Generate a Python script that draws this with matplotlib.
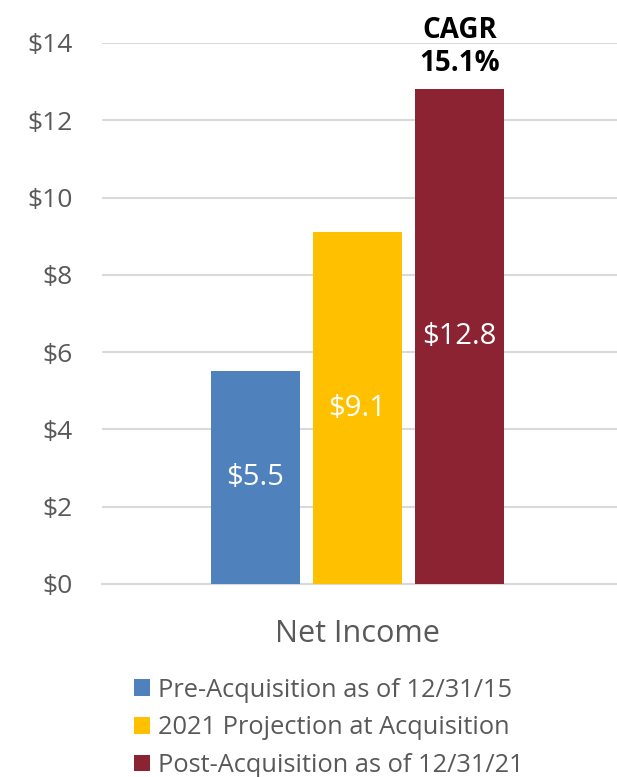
import matplotlib
matplotlib.use("Agg")
import matplotlib.pyplot as plt
from matplotlib.patches import Patch

series = ["Pre-Acquisition as of 12/31/15",
          "2021 Projection at Acquisition",
          "Post-Acquisition as of 12/31/21"]
values = [5.5, 9.1, 12.8]
colors = ["#4F81BD", "#FFC000", "#8B2332"]
category = "Net Income"
cagr_text = "CAGR\n15.1%"
yticks = [0, 2, 4, 6, 8, 10, 12, 14]

plt.rcParams['font.family'] = ['Open Sans', 'DejaVu Sans']

fig = plt.figure(figsize=(6.17, 7.77), dpi=100)
ax = fig.add_axes([0.165, 0.2484, 0.835, 0.6963])

positions = [-1, 0, 1]
bars = ax.bar(positions, values, width=0.87, color=colors, zorder=3)

for b, v in zip(bars, values):
    ax.text(b.get_x() + b.get_width() / 2, v / 2, f"${v:.1f}",
            ha='center', va='center', color='white', fontsize=21, zorder=4)

ax.text(positions[2], values[2] + 0.3, cagr_text, ha='center', va='bottom',
        fontsize=20, fontweight='bold', color='black', linespacing=1.15)

ax.set_xlim(-2.5, 2.54)
ax.set_ylim(0, 14)
ax.set_yticks(yticks)
ax.set_yticklabels([f"${t}" for t in yticks])
ax.tick_params(axis='y', length=0, labelsize=19, labelcolor='#595959', pad=21)
ax.set_xticks([0])
ax.set_xticklabels([category])
ax.tick_params(axis='x', length=0, labelsize=22, labelcolor='#595959', pad=25)

ax.grid(axis='y', color='#D9D9D9', linewidth=1.5, zorder=0)
for s in ['top', 'right', 'left']:
    ax.spines[s].set_visible(False)
ax.spines['bottom'].set_color('#D9D9D9')
ax.spines['bottom'].set_linewidth(1.5)

handles = [Patch(facecolor=c, label=l) for c, l in zip(colors, series)]
fig.legend(handles=handles, loc='upper left', bbox_to_anchor=(0.217, 0.128),
           frameon=False, fontsize=18.3, labelcolor='#595959',
           handlelength=0.63, handleheight=0.63, handletextpad=0.3,
           labelspacing=0.5, borderaxespad=0, borderpad=0)

fig.savefig("out.png", dpi=100)
